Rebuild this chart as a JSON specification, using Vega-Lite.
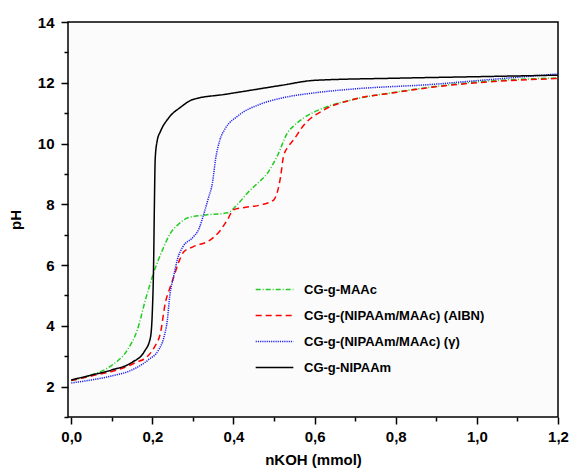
{
  "$schema": "https://vega.github.io/schema/vega-lite/v6.json",
  "width": 490,
  "height": 395,
  "autosize": {"type": "none"},
  "padding": {"left": 68, "top": 22, "right": 14, "bottom": 59},
  "background": "white",
  "config": {
    "view": {"stroke": "black", "strokeWidth": 1.5, "fill": "#fbfbfb"},
    "font": "Liberation Sans",
    "axis": {"grid": false, "domain": false, "tickColor": "black", "labelColor": "black", "titleColor": "black", "labelFont": "Liberation Sans", "titleFont": "Liberation Sans"}
  },
  "datasets": {
    "curves": [
      {"s": "CG-g-MAAc", "x": 0, "y": 2.2},
      {"s": "CG-g-MAAc", "x": 0.05, "y": 2.38},
      {"s": "CG-g-MAAc", "x": 0.1, "y": 2.7},
      {"s": "CG-g-MAAc", "x": 0.138, "y": 3.2},
      {"s": "CG-g-MAAc", "x": 0.163, "y": 3.87},
      {"s": "CG-g-MAAc", "x": 0.183, "y": 4.86},
      {"s": "CG-g-MAAc", "x": 0.203, "y": 5.74},
      {"s": "CG-g-MAAc", "x": 0.225, "y": 6.5},
      {"s": "CG-g-MAAc", "x": 0.245, "y": 7.06},
      {"s": "CG-g-MAAc", "x": 0.265, "y": 7.35},
      {"s": "CG-g-MAAc", "x": 0.286, "y": 7.55},
      {"s": "CG-g-MAAc", "x": 0.331, "y": 7.65},
      {"s": "CG-g-MAAc", "x": 0.385, "y": 7.72},
      {"s": "CG-g-MAAc", "x": 0.41, "y": 8.0},
      {"s": "CG-g-MAAc", "x": 0.435, "y": 8.38},
      {"s": "CG-g-MAAc", "x": 0.46, "y": 8.7},
      {"s": "CG-g-MAAc", "x": 0.484, "y": 9.03},
      {"s": "CG-g-MAAc", "x": 0.509, "y": 9.62},
      {"s": "CG-g-MAAc", "x": 0.533, "y": 10.35},
      {"s": "CG-g-MAAc", "x": 0.55, "y": 10.6},
      {"s": "CG-g-MAAc", "x": 0.573, "y": 10.84},
      {"s": "CG-g-MAAc", "x": 0.622, "y": 11.17},
      {"s": "CG-g-MAAc", "x": 0.689, "y": 11.43},
      {"s": "CG-g-MAAc", "x": 0.805, "y": 11.7},
      {"s": "CG-g-MAAc", "x": 0.978, "y": 12.0},
      {"s": "CG-g-MAAc", "x": 1.2, "y": 12.16},

      {"s": "CG-g-(NIPAAm/MAAc) (AIBN)", "x": 0, "y": 2.2},
      {"s": "CG-g-(NIPAAm/MAAc) (AIBN)", "x": 0.05, "y": 2.35},
      {"s": "CG-g-(NIPAAm/MAAc) (AIBN)", "x": 0.1, "y": 2.5},
      {"s": "CG-g-(NIPAAm/MAAc) (AIBN)", "x": 0.129, "y": 2.62},
      {"s": "CG-g-(NIPAAm/MAAc) (AIBN)", "x": 0.16, "y": 2.8},
      {"s": "CG-g-(NIPAAm/MAAc) (AIBN)", "x": 0.187, "y": 2.98},
      {"s": "CG-g-(NIPAAm/MAAc) (AIBN)", "x": 0.205, "y": 3.3},
      {"s": "CG-g-(NIPAAm/MAAc) (AIBN)", "x": 0.22, "y": 3.77},
      {"s": "CG-g-(NIPAAm/MAAc) (AIBN)", "x": 0.232, "y": 4.76},
      {"s": "CG-g-(NIPAAm/MAAc) (AIBN)", "x": 0.242, "y": 5.2},
      {"s": "CG-g-(NIPAAm/MAAc) (AIBN)", "x": 0.252, "y": 5.58},
      {"s": "CG-g-(NIPAAm/MAAc) (AIBN)", "x": 0.265, "y": 6.1},
      {"s": "CG-g-(NIPAAm/MAAc) (AIBN)", "x": 0.277, "y": 6.43},
      {"s": "CG-g-(NIPAAm/MAAc) (AIBN)", "x": 0.3, "y": 6.6},
      {"s": "CG-g-(NIPAAm/MAAc) (AIBN)", "x": 0.343, "y": 6.83},
      {"s": "CG-g-(NIPAAm/MAAc) (AIBN)", "x": 0.365, "y": 7.1},
      {"s": "CG-g-(NIPAAm/MAAc) (AIBN)", "x": 0.385, "y": 7.49},
      {"s": "CG-g-(NIPAAm/MAAc) (AIBN)", "x": 0.4, "y": 7.82},
      {"s": "CG-g-(NIPAAm/MAAc) (AIBN)", "x": 0.43, "y": 7.9},
      {"s": "CG-g-(NIPAAm/MAAc) (AIBN)", "x": 0.467, "y": 7.98},
      {"s": "CG-g-(NIPAAm/MAAc) (AIBN)", "x": 0.499, "y": 8.14},
      {"s": "CG-g-(NIPAAm/MAAc) (AIBN)", "x": 0.51, "y": 8.5},
      {"s": "CG-g-(NIPAAm/MAAc) (AIBN)", "x": 0.516, "y": 8.9},
      {"s": "CG-g-(NIPAAm/MAAc) (AIBN)", "x": 0.523, "y": 9.56},
      {"s": "CG-g-(NIPAAm/MAAc) (AIBN)", "x": 0.535, "y": 9.9},
      {"s": "CG-g-(NIPAAm/MAAc) (AIBN)", "x": 0.548, "y": 10.12},
      {"s": "CG-g-(NIPAAm/MAAc) (AIBN)", "x": 0.573, "y": 10.6},
      {"s": "CG-g-(NIPAAm/MAAc) (AIBN)", "x": 0.622, "y": 11.1},
      {"s": "CG-g-(NIPAAm/MAAc) (AIBN)", "x": 0.689, "y": 11.43},
      {"s": "CG-g-(NIPAAm/MAAc) (AIBN)", "x": 0.8, "y": 11.68},
      {"s": "CG-g-(NIPAAm/MAAc) (AIBN)", "x": 0.894, "y": 11.86},
      {"s": "CG-g-(NIPAAm/MAAc) (AIBN)", "x": 1.0, "y": 12.0},
      {"s": "CG-g-(NIPAAm/MAAc) (AIBN)", "x": 1.2, "y": 12.14},

      {"s": "CG-g-(NIPAAm/MAAc) (γ)", "x": 0, "y": 2.12},
      {"s": "CG-g-(NIPAAm/MAAc) (γ)", "x": 0.05, "y": 2.22},
      {"s": "CG-g-(NIPAAm/MAAc) (γ)", "x": 0.1, "y": 2.35},
      {"s": "CG-g-(NIPAAm/MAAc) (γ)", "x": 0.15, "y": 2.55},
      {"s": "CG-g-(NIPAAm/MAAc) (γ)", "x": 0.19, "y": 2.88},
      {"s": "CG-g-(NIPAAm/MAAc) (γ)", "x": 0.215, "y": 3.2},
      {"s": "CG-g-(NIPAAm/MAAc) (γ)", "x": 0.228, "y": 3.6},
      {"s": "CG-g-(NIPAAm/MAAc) (γ)", "x": 0.237, "y": 4.2},
      {"s": "CG-g-(NIPAAm/MAAc) (γ)", "x": 0.243, "y": 5.0},
      {"s": "CG-g-(NIPAAm/MAAc) (γ)", "x": 0.252, "y": 5.6},
      {"s": "CG-g-(NIPAAm/MAAc) (γ)", "x": 0.262, "y": 6.2},
      {"s": "CG-g-(NIPAAm/MAAc) (γ)", "x": 0.275, "y": 6.6},
      {"s": "CG-g-(NIPAAm/MAAc) (γ)", "x": 0.299, "y": 6.9},
      {"s": "CG-g-(NIPAAm/MAAc) (γ)", "x": 0.315, "y": 7.2},
      {"s": "CG-g-(NIPAAm/MAAc) (γ)", "x": 0.326, "y": 7.65},
      {"s": "CG-g-(NIPAAm/MAAc) (γ)", "x": 0.338, "y": 8.2},
      {"s": "CG-g-(NIPAAm/MAAc) (γ)", "x": 0.348, "y": 8.7},
      {"s": "CG-g-(NIPAAm/MAAc) (γ)", "x": 0.356, "y": 9.5},
      {"s": "CG-g-(NIPAAm/MAAc) (γ)", "x": 0.366, "y": 10.1},
      {"s": "CG-g-(NIPAAm/MAAc) (γ)", "x": 0.38, "y": 10.5},
      {"s": "CG-g-(NIPAAm/MAAc) (γ)", "x": 0.41, "y": 10.9},
      {"s": "CG-g-(NIPAAm/MAAc) (γ)", "x": 0.467, "y": 11.3},
      {"s": "CG-g-(NIPAAm/MAAc) (γ)", "x": 0.52, "y": 11.5},
      {"s": "CG-g-(NIPAAm/MAAc) (γ)", "x": 0.607, "y": 11.68},
      {"s": "CG-g-(NIPAAm/MAAc) (γ)", "x": 0.7, "y": 11.8},
      {"s": "CG-g-(NIPAAm/MAAc) (γ)", "x": 0.894, "y": 11.95},
      {"s": "CG-g-(NIPAAm/MAAc) (γ)", "x": 1.0, "y": 12.07},
      {"s": "CG-g-(NIPAAm/MAAc) (γ)", "x": 1.2, "y": 12.29},

      {"s": "CG-g-NIPAAm", "x": 0, "y": 2.22},
      {"s": "CG-g-NIPAAm", "x": 0.05, "y": 2.38},
      {"s": "CG-g-NIPAAm", "x": 0.1, "y": 2.55},
      {"s": "CG-g-NIPAAm", "x": 0.15, "y": 2.8},
      {"s": "CG-g-NIPAAm", "x": 0.18, "y": 3.15},
      {"s": "CG-g-NIPAAm", "x": 0.195, "y": 3.6},
      {"s": "CG-g-NIPAAm", "x": 0.2, "y": 4.5},
      {"s": "CG-g-NIPAAm", "x": 0.203, "y": 6.0},
      {"s": "CG-g-NIPAAm", "x": 0.205, "y": 8.0},
      {"s": "CG-g-NIPAAm", "x": 0.207, "y": 9.5},
      {"s": "CG-g-NIPAAm", "x": 0.212, "y": 10.1},
      {"s": "CG-g-NIPAAm", "x": 0.22, "y": 10.4},
      {"s": "CG-g-NIPAAm", "x": 0.24, "y": 10.84},
      {"s": "CG-g-NIPAAm", "x": 0.27, "y": 11.2},
      {"s": "CG-g-NIPAAm", "x": 0.3, "y": 11.45},
      {"s": "CG-g-NIPAAm", "x": 0.38, "y": 11.62},
      {"s": "CG-g-NIPAAm", "x": 0.45, "y": 11.77},
      {"s": "CG-g-NIPAAm", "x": 0.52, "y": 11.92},
      {"s": "CG-g-NIPAAm", "x": 0.6, "y": 12.08},
      {"s": "CG-g-NIPAAm", "x": 0.8, "y": 12.15},
      {"s": "CG-g-NIPAAm", "x": 1.0, "y": 12.2},
      {"s": "CG-g-NIPAAm", "x": 1.2, "y": 12.25}
    ],
    "minor": [{"x": 0.5, "y": 5}]
  },
  "layer": [
    {
      "data": {"name": "curves"},
      "mark": {"type": "line", "strokeWidth": 1.5, "interpolate": "monotone", "clip": true},
      "encoding": {
        "x": {
          "field": "x", "type": "quantitative",
          "scale": {"domain": [-0.008, 1.2], "nice": false, "zero": false},
          "axis": {
            "orient": "bottom",
            "values": [0, 0.2, 0.4, 0.6, 0.8, 1.0, 1.2],
            "labelExpr": "replace(format(datum.value, '.1f'), '.', ',')",
            "tickSize": 7, "tickWidth": 1.5,
            "labelFontSize": 15, "labelFontWeight": "bold", "labelPadding": 5,
            "labelFlush": false,
            "title": "nKOH (mmol)", "titleFontSize": 15, "titleFontWeight": "bold", "titlePadding": 8
          }
        },
        "y": {
          "field": "y", "type": "quantitative",
          "scale": {"domain": [1, 14], "nice": false, "zero": false},
          "axis": {
            "orient": "left",
            "values": [2, 4, 6, 8, 10, 12, 14],
            "tickSize": 7, "tickWidth": 1.5,
            "labelFontSize": 15, "labelFontWeight": "bold", "labelPadding": 7,
            "title": "pH", "titleFontSize": 15, "titleFontWeight": "bold", "titlePadding": 14
          }
        },
        "color": {
          "field": "s", "type": "nominal",
          "scale": {
            "domain": ["CG-g-MAAc", "CG-g-(NIPAAm/MAAc) (AIBN)", "CG-g-(NIPAAm/MAAc) (γ)", "CG-g-NIPAAm"],
            "range": ["#22cc22", "#ff0000", "#2020ee", "#000000"]
          },
          "legend": {
            "title": null, "orient": "none", "legendX": 197, "legendY": 258,
            "symbolType": "M-2.25,0H2.25", "symbolSize": 280, "symbolStrokeWidth": 1.5,
            "labelFontSize": 13, "labelFontWeight": "bold", "labelColor": "black",
            "labelLimit": 300,
            "rowPadding": 9, "labelOffset": 20
          }
        },
        "strokeDash": {
          "field": "s", "type": "nominal",
          "scale": {
            "domain": ["CG-g-MAAc", "CG-g-(NIPAAm/MAAc) (AIBN)", "CG-g-(NIPAAm/MAAc) (γ)", "CG-g-NIPAAm"],
            "range": [[5, 2, 1, 2], [6, 4], [1.2, 1], [1, 0]]
          },
          "legend": null
        }
      }
    },
    {
      "data": {"name": "minor"},
      "mark": {"type": "point", "opacity": 0},
      "encoding": {
        "x": {
          "field": "x", "type": "quantitative",
          "axis": {"orient": "bottom", "values": [0.1, 0.3, 0.5, 0.7, 0.9, 1.1], "labels": false, "tickSize": 4, "tickWidth": 1.5, "title": null}
        },
        "y": {
          "field": "y", "type": "quantitative",
          "axis": {"orient": "left", "values": [1, 3, 5, 7, 9, 11, 13], "labels": false, "tickSize": 4, "tickWidth": 1.5, "title": null}
        }
      }
    }
  ],
  "resolve": {"axis": {"x": "independent", "y": "independent"}}
}
